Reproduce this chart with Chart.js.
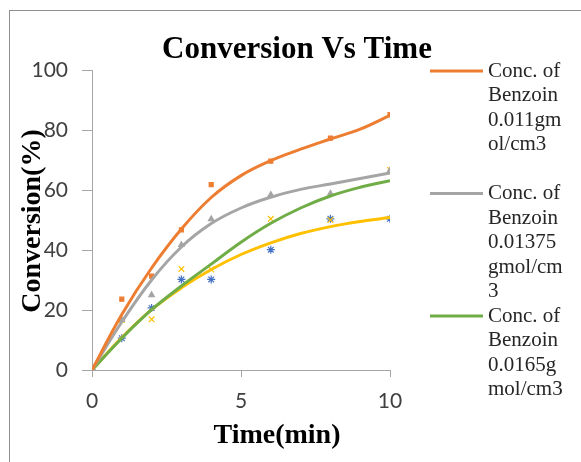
<!DOCTYPE html>
<html>
<head>
    <title>Conversion Vs Time</title>
    <script src="https://cdn.jsdelivr.net/npm/chart.js"></script>
    <style>
        body { margin: 0; background: #fff; }
        #wrap { position: relative; width: 581px; height: 462px; }
        #frame { position: absolute; left: 9px; top: 10px; right: -5px; bottom: -5px;
                 border-left: 1px solid #8f8f8f; border-top: 1px solid #8f8f8f; }
        canvas { position: absolute; left: 0; top: 0; }
    </style>
</head>
<body>
<div id="wrap">
    <div id="frame"></div>
    <canvas id="convChart" width="581" height="462"></canvas>
</div>

<script>
// measured points (min, %)
const times = [0, 1, 2, 3, 4, 6, 8, 10];
const orangePts = [0, 23.6, 31.3, 46.7, 61.8, 69.6, 77.3, 85.1];
const grayPts   = [0, 16.7, 25.0, 41.7, 50.3, 58.4, 58.8, 66.5];
const yellowPts = [0, 16.7, 16.9, 33.7, 33.5, 50.4, 50.0, 66.7];
const bluePts   = [0, 10.6, 20.7, 30.2, 30.2, 40.1, 50.4, 50.4];

// trend curves
const curveTimes = [0, 1, 2, 3, 4, 5, 6, 7, 8, 9, 10];
const orangeCurve = [0, 18.5, 34.0, 47.0, 57.5, 64.8, 69.8, 73.6, 77.0, 80.3, 84.9];
const grayCurve   = [0, 16.0, 30.0, 41.0, 48.8, 54.0, 57.6, 60.2, 62.0, 63.8, 65.7];
const greenCurve  = [0, 10.6, 20.1, 28.0, 35.3, 42.6, 48.9, 54.0, 58.0, 60.9, 63.1];
const yellowCurve = [0, 10.8, 20.1, 27.4, 33.5, 38.5, 42.4, 45.5, 47.8, 49.5, 50.8];

const legendLabels = [
    ["Conc. of", "Benzoin", "0.011gm", "ol/cm3"],
    ["Conc. of", "Benzoin", "0.01375", "gmol/cm", "3"],
    ["Conc. of", "Benzoin", "0.0165g", "mol/cm3"]
];

const xTicks = [0, 5, 10];
const yTicks = [0, 20, 40, 60, 80, 100];

function toXY(xs, ys) {
    return xs.map((x, i) => ({ x: x, y: ys[i] }));
}

function curve(label, ys, color) {
    return {
        type: "line",
        label: label,
        data: toXY(curveTimes, ys),
        borderColor: color,
        backgroundColor: color,
        borderWidth: 3,
        pointRadius: 0,
        tension: 0.4,
        order: 1
    };
}

function points(ys, color, style, radius) {
    return {
        type: "scatter",
        data: toXY(times, ys),
        borderColor: color,
        backgroundColor: color,
        pointStyle: style,
        pointRadius: radius,
        pointBorderWidth: 1.2,
        showLine: false,
        order: 2
    };
}

// titles and the (clipped) legend drawn at the places they sit in the picture
const decor = {
    id: "decor",
    afterDraw(chart) {
        const c = chart.ctx;
        c.save();
        c.fillStyle = "#000";
        c.textAlign = "center";
        c.textBaseline = "alphabetic";
        c.font = "bold 31px 'Liberation Serif'";
        c.fillText("Conversion Vs Time", 297, 58);
        c.font = "bold 28px 'Liberation Serif'";
        c.fillText("Time(min)", 277, 443);
        c.save();
        c.translate(40, 221);
        c.rotate(-Math.PI / 2);
        c.fillText("Conversion(%)", 0, 0);
        c.restore();

        c.textAlign = "left";
        c.textBaseline = "middle";
        c.font = "21px 'Liberation Serif'";
        const colors = ["#ED7D31", "#A5A5A5", "#70AD47"];
        legendLabels.forEach((lines, i) => {
            const top = 71 + i * 122.5;
            c.strokeStyle = colors[i];
            c.lineWidth = 3;
            c.beginPath();
            c.moveTo(430, top);
            c.lineTo(483, top);
            c.stroke();
            c.fillStyle = "#262626";
            lines.forEach((t, j) => c.fillText(t, 488, top + j * 24.5));
        });
        c.restore();
    }
};

const axisColor = "#a6a6a6";
const tickFont = { family: "Lato", size: 21 };

new Chart(document.getElementById("convChart"), {
    data: {
        datasets: [
            curve(legendLabels[0].join(""), orangeCurve, "#ED7D31"),
            curve(legendLabels[1].join(""), grayCurve, "#A5A5A5"),
            curve(legendLabels[2].join(""), greenCurve, "#70AD47"),
            curve("yellow trend", yellowCurve, "#FFC000"),
            points(orangePts, "#ED7D31", "rect", 2.8),
            points(grayPts, "#A5A5A5", "triangle", 3.2),
            points(yellowPts, "#FFC000", "crossRot", 4),
            points(bluePts, "#4472C4", "star", 4)
        ]
    },
    options: {
        responsive: false,
        animation: false,
        devicePixelRatio: 1,
        layout: { padding: { left: 0, top: 70, right: 191, bottom: 0 } },
        plugins: { legend: { display: false }, title: { display: false }, tooltip: { enabled: false } },
        scales: {
            x: {
                type: "linear",
                min: 0, max: 10,
                afterBuildTicks: s => { s.ticks = xTicks.map(v => ({ value: v })); },
                afterFit: s => { s.height = 92; },
                ticks: { font: tickFont, color: "#404040", padding: 12 },
                grid: { drawOnChartArea: false, drawTicks: true, tickLength: 7, color: axisColor },
                border: { color: axisColor, width: 1 }
            },
            y: {
                type: "linear",
                min: 0, max: 100,
                afterBuildTicks: s => { s.ticks = yTicks.map(v => ({ value: v })); },
                afterFit: s => { s.width = 92; },
                ticks: { font: tickFont, color: "#404040", padding: 14 },
                grid: { drawOnChartArea: false, drawTicks: true, tickLength: 10, color: axisColor },
                border: { color: axisColor, width: 1 }
            }
        }
    },
    plugins: [decor]
});
</script>
</body>
</html>
